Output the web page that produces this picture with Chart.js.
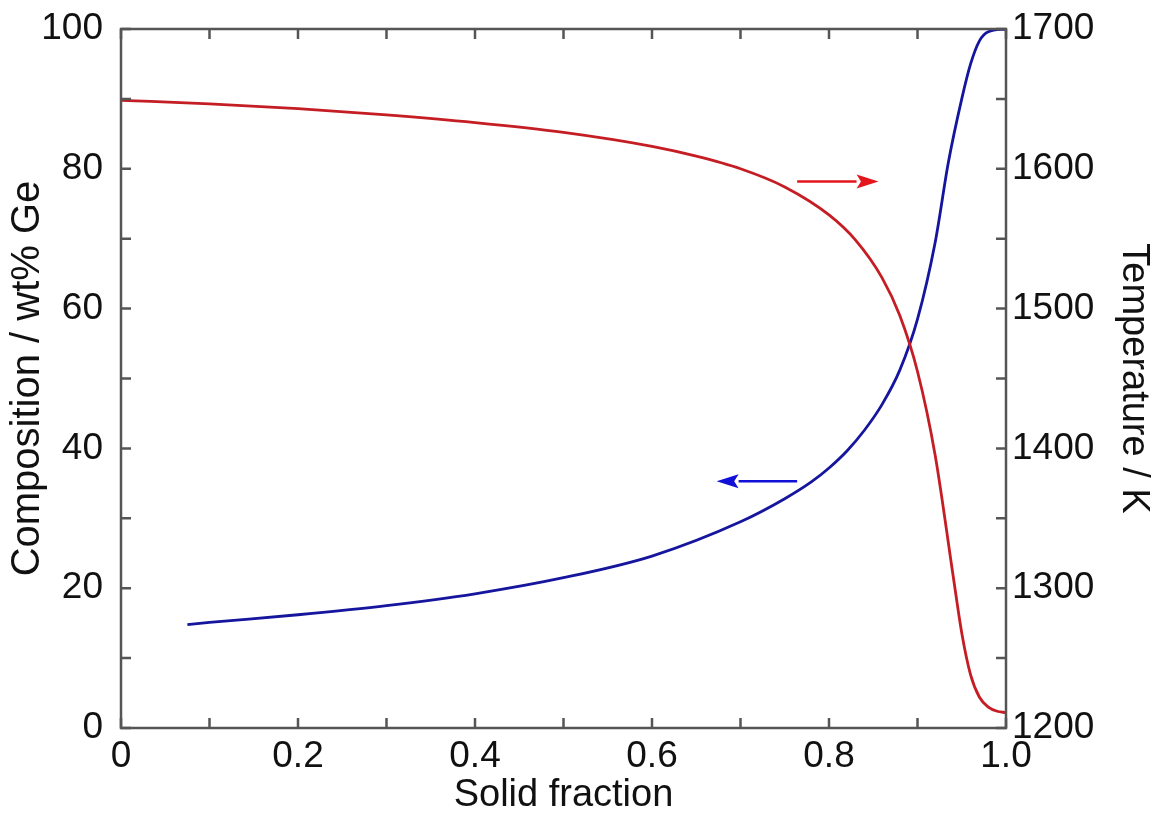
<!DOCTYPE html>
<html>
<head>
<meta charset="utf-8">
<script src="https://cdn.jsdelivr.net/npm/chart.js@4.4.1/dist/chart.umd.min.js"></script>
<style>
  html, body { margin: 0; padding: 0; background: #fff; }
  #wrap { width: 1156px; height: 816px; }
</style>
</head>
<body>
<div id="wrap"><canvas id="chart" width="1156" height="816"></canvas></div>
<script>
// solid fraction vs composition (left axis, wt% Ge)
const compX = [0.075, 0.1, 0.2, 0.3, 0.4, 0.5, 0.6, 0.7, 0.75, 0.78, 0.8, 0.82, 0.84, 0.86, 0.88, 0.9, 0.92, 0.935, 0.95, 0.96, 0.97, 0.98, 1.0];
const compY = [14.8, 15.1, 16.2, 17.5, 19.2, 21.5, 24.6, 29.5, 32.8, 35.2, 37.2, 39.6, 42.6, 46.3, 51.2, 58.5, 69.5, 81.0, 90.0, 95.0, 98.3, 99.6, 100];

// solid fraction vs temperature (right axis, K)
const tempX = [0, 0.1, 0.2, 0.3, 0.4, 0.5, 0.6, 0.65, 0.7, 0.75, 0.8, 0.83, 0.86, 0.88, 0.9, 0.92, 0.94, 0.95, 0.96, 0.97, 0.98, 0.99, 1.0];
const tempY = [1649, 1646.5, 1643, 1638.5, 1633, 1626, 1616, 1609, 1600, 1587, 1567, 1549, 1522, 1495, 1455, 1395, 1310, 1268, 1238, 1222, 1215, 1212, 1211];

// axis ticks
const xMarks = [0, 0.1, 0.2, 0.3, 0.4, 0.5, 0.6, 0.7, 0.8, 0.9, 1.0];
const yMarks = [0, 10, 20, 30, 40, 50, 60, 70, 80, 90, 100];
const y1Marks = [1200, 1250, 1300, 1350, 1400, 1450, 1500, 1550, 1600, 1650, 1700];

// arrows: [xFrom, xTo, yValue]
const redArrow = [0.764, 0.856, 1591];
const blueArrow = [0.764, 0.673, 35.3];

const FONT = "'Liberation Sans', Arial, sans-serif";
const AXIS = '#555';

const frame = {
  id: 'frame',
  afterDatasetsDraw(chart) {
    const { ctx, chartArea: a, scales } = chart;
    const { x, y, y1 } = scales;
    ctx.save();
    ctx.strokeStyle = AXIS;
    ctx.lineWidth = 2.5;
    ctx.strokeRect(a.left, a.top, a.right - a.left, a.bottom - a.top);
    const tl = 10;
    ctx.beginPath();
    xMarks.forEach(v => {
      const px = x.getPixelForValue(v);
      ctx.moveTo(px, a.bottom); ctx.lineTo(px, a.bottom - tl);
      ctx.moveTo(px, a.top); ctx.lineTo(px, a.top + tl);
    });
    yMarks.forEach(v => {
      const py = y.getPixelForValue(v);
      ctx.moveTo(a.left, py); ctx.lineTo(a.left + tl, py);
    });
    y1Marks.forEach(v => {
      const py = y1.getPixelForValue(v);
      ctx.moveTo(a.right, py); ctx.lineTo(a.right - tl, py);
    });
    ctx.stroke();

    function arrow(spec, scaleY, color){
      const x0 = x.getPixelForValue(spec[0]);
      const x1 = x.getPixelForValue(spec[1]);
      const py = scaleY.getPixelForValue(spec[2]);
      const dir = Math.sign(x1 - x0);
      const head = 22, hw = 7;
      ctx.strokeStyle = color;
      ctx.fillStyle = color;
      ctx.lineWidth = 2.5;
      ctx.beginPath();
      ctx.moveTo(x0, py); ctx.lineTo(x1 - dir * head, py);
      ctx.stroke();
      ctx.beginPath();
      ctx.moveTo(x1, py);
      ctx.lineTo(x1 - dir * head, py - hw);
      ctx.lineTo(x1 - dir * head * 0.8, py);
      ctx.lineTo(x1 - dir * head, py + hw);
      ctx.closePath();
      ctx.fill();
    }
    arrow(redArrow, y1, '#e3161c');
    arrow(blueArrow, y, '#1010d8');
    ctx.restore();
  }
};

function fitY(w){
  return s => { s.width = w; s.paddingTop = 0; s.paddingBottom = 0; };
}

new Chart(document.getElementById('chart'), {
  type: 'line',
  data: {
    datasets: [
      { label: 'Temperature', data: tempX.map((v, i) => ({ x: v, y: tempY[i] })), yAxisID: 'y1',
        borderColor: '#c51d24', borderWidth: 2.8, pointRadius: 0, fill: false, cubicInterpolationMode: 'monotone' },
      { label: 'Composition', data: compX.map((v, i) => ({ x: v, y: compY[i] })), yAxisID: 'y',
        borderColor: '#15159e', borderWidth: 2.8, pointRadius: 0, fill: false, cubicInterpolationMode: 'monotone' }
    ]
  },
  options: {
    responsive: false,
    animation: false,
    layout: { padding: { top: 29, left: 0, right: 0, bottom: 0 } },
    plugins: { legend: { display: false }, tooltip: { enabled: false } },
    scales: {
      x: {
        type: 'linear', min: 0, max: 1,
        grid: { display: false, drawTicks: false }, border: { display: false },
        ticks: { stepSize: 0.2, autoSkip: false, maxRotation: 0, padding: 7, color: '#111',
          font: { family: FONT, size: 37 },
          callback: v => v === 0 ? '0' : Number(v).toFixed(1) },
        title: { display: true, text: 'Solid fraction', color: '#111',
          font: { family: FONT, size: 38, lineHeight: 1 }, padding: { top: 0, bottom: 1 } },
        afterFit: s => { s.height = 88; s.paddingLeft = 0; s.paddingRight = 0; }
      },
      y: {
        position: 'left', min: 0, max: 100,
        grid: { display: false, drawTicks: false }, border: { display: false },
        ticks: { stepSize: 20, padding: 18, color: '#111', font: { family: FONT, size: 37 } },
        title: { display: true, text: 'Composition / wt% Ge', color: '#111',
          font: { family: FONT, size: 40, lineHeight: 1 }, padding: { top: 8, bottom: 0 } },
        afterFit: fitY(121)
      },
      y1: {
        position: 'right', min: 1200, max: 1700,
        grid: { display: false, drawTicks: false }, border: { display: false },
        ticks: { stepSize: 100, padding: 6, color: '#111', font: { family: FONT, size: 37 },
          callback: v => String(v) },
        title: { display: true, text: 'Temperature / K', color: '#111',
          font: { family: FONT, size: 38, lineHeight: 1 }, padding: { top: 4, bottom: 0 } },
        afterFit: fitY(150)
      }
    }
  },
  plugins: [frame]
});
</script>
</body>
</html>
